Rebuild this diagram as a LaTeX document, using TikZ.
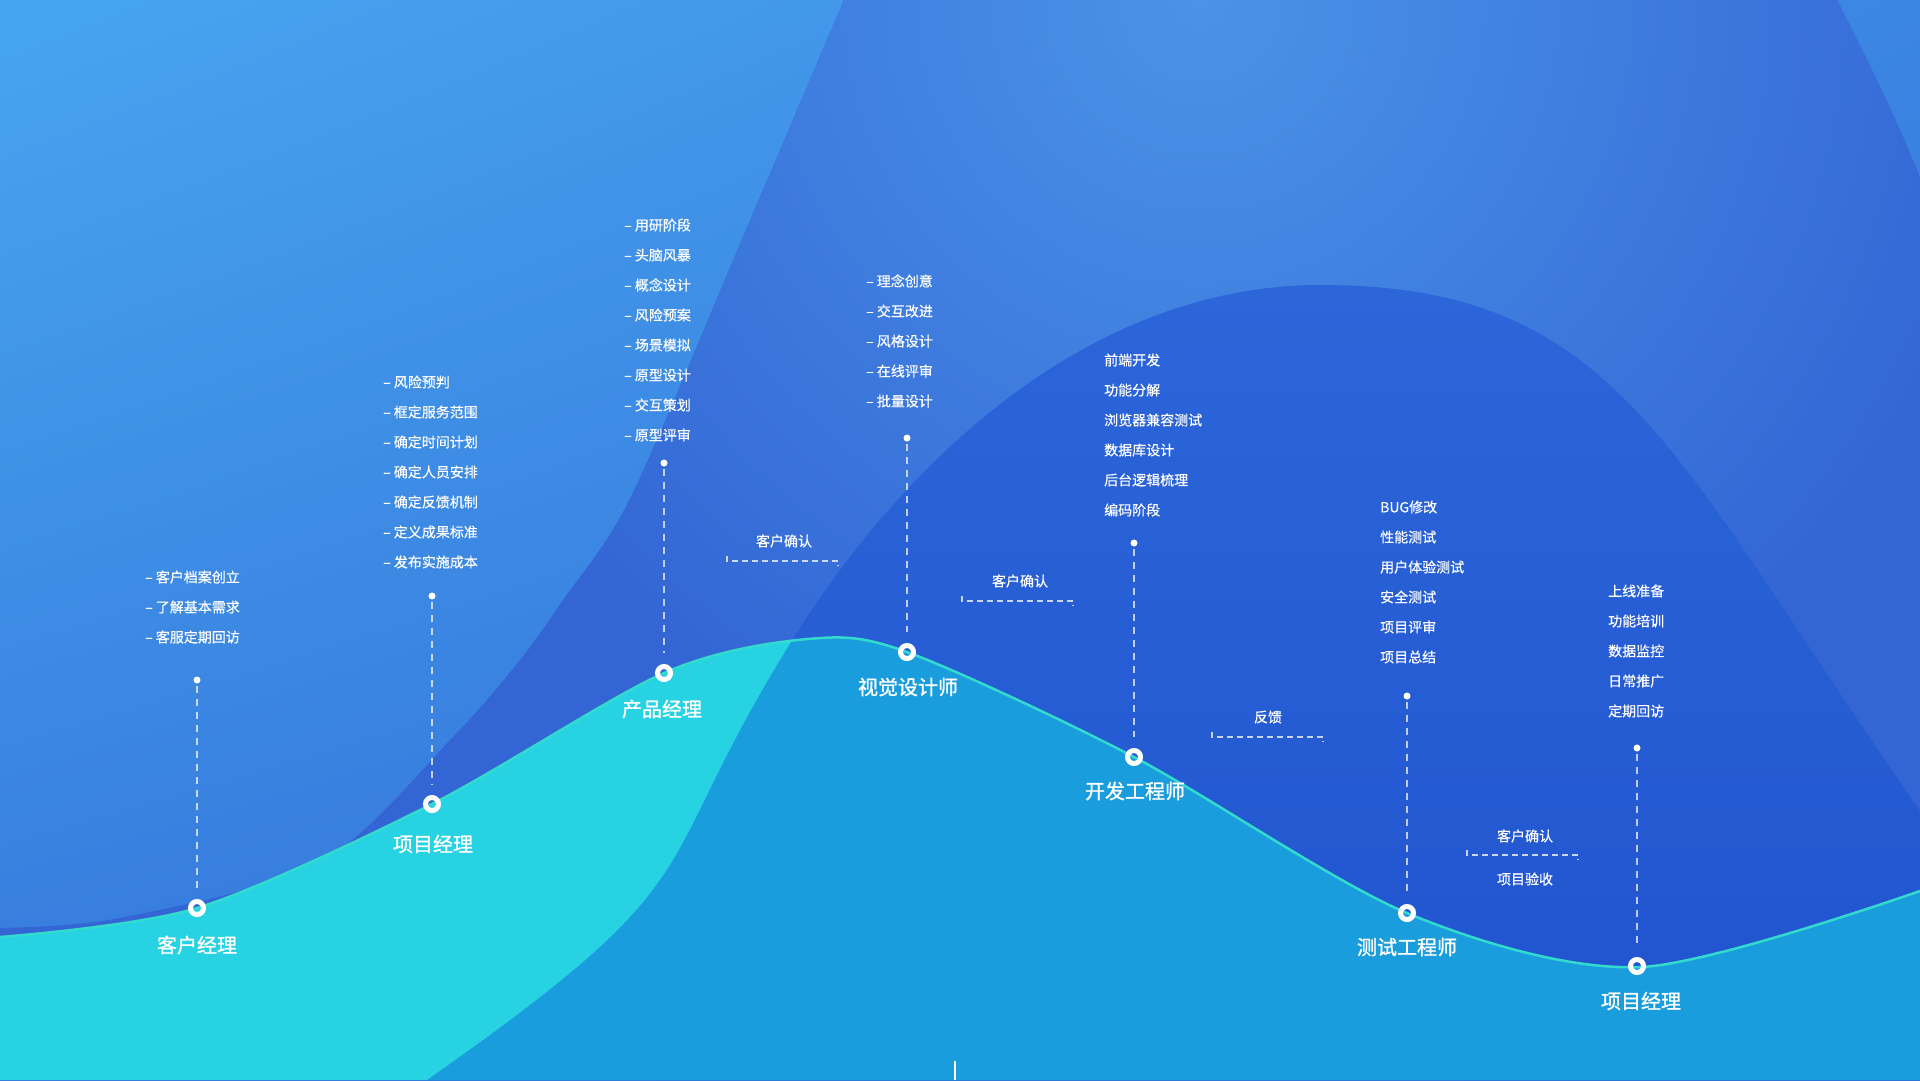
\documentclass[tikz,border=0pt]{standalone}
\usepackage{fontspec}
\setmainfont{Noto Sans CJK SC}
\newfontfamily\rolefont[FakeBold=1.2]{Noto Sans CJK SC}
\newfontfamily\listfont[FakeBold=0.4]{Noto Sans CJK SC}
\usepackage{tikz}
\usetikzlibrary{shapes, shadings, positioning}
\definecolor{bgtl}{HTML}{47A5F0}
\definecolor{bgtr}{HTML}{3C86E3}
\definecolor{bgbl}{HTML}{3679DC}
\definecolor{bgbr}{HTML}{2E66D4}
\definecolor{shellbase}{HTML}{3365D4}
\definecolor{shellglow}{HTML}{4A93E8}
\definecolor{dometop}{HTML}{2C66D9}
\definecolor{domebot}{HTML}{2053CF}
\definecolor{wavecyan}{HTML}{27D3E3}
\definecolor{wavedeep}{HTML}{1A9DDC}
\definecolor{waveedge}{HTML}{33DACE}
\tikzstyle{ring} = [circle, draw=white, line width=5pt, inner sep=0pt, minimum size=13pt]
\tikzstyle{dot} = [circle, fill=white, inner sep=0pt, minimum size=7pt]
\tikzstyle{stem} = [draw=white, draw opacity=0.7, line width=1.8pt, dash pattern=on 7pt off 6pt, shorten <=2pt, shorten >=11pt]
\tikzstyle{role} = [text=white, inner sep=0pt, font=\rolefont\fontsize{20}{24}\selectfont]
\tikzstyle{items} = [text=white, inner sep=0pt, anchor=west, align=left, font=\listfont\fontsize{14}{30}\selectfont]
\tikzstyle{note} = [text=white, inner sep=0pt, font=\listfont\fontsize{14}{16}\selectfont]
\tikzstyle{bracket} = [draw=white, draw opacity=0.75, line width=1.8pt, dash pattern=on 6pt off 4pt]

\begin{document}
\begin{tikzpicture}[x=1pt, y=-1pt]
	\useasboundingbox (0,0) rectangle (1920,1080);
	\clip (0,0) rectangle (1920,1080);
	\shade [upper left=bgtl, upper right=bgtr, lower left=bgbl, lower right=bgbr] (0,0) rectangle (1920,1080);

	\fill [shellbase] plot [smooth] coordinates {(0,928) (120,918) (320,863) (453,737) (520,660) (563,600) (631,497) (746,230) (844,0)} -- (1837,0) .. controls (1865,55) and (1895,115) .. (1920,178) -- (1920,1080) -- (0,1080) -- cycle;
	\begin{scope}
		\clip plot [smooth] coordinates {(0,928) (120,918) (320,863) (453,737) (520,660) (563,600) (631,497) (746,230) (844,0)} -- (1837,0) .. controls (1865,55) and (1895,115) .. (1920,178) -- (1920,1080) -- (0,1080) -- cycle;
		\shade [inner color=shellglow, outer color=shellbase] (1200,0) circle (850);
	\end{scope}

	\shade [top color=dometop, bottom color=domebot] (427,1080) .. controls (727,870) and (643,879) .. (793,639) .. controls (913,447) and (1100,285) .. (1320,285) .. controls (1620,285) and (1670,453) .. (1920,811) -- (1920,1080) -- cycle;

	\fill [wavecyan] plot [smooth] coordinates {(0,937) (197,908) (432,804) (664,673) (808,639) (907,652) (1134,757) (1407,913) (1641,967) (1920,891)} -- (1920,1080) -- (0,1080) -- cycle;
	\begin{scope}
		\clip plot [smooth] coordinates {(0,937) (197,908) (432,804) (664,673) (808,639) (907,652) (1134,757) (1407,913) (1641,967) (1920,891)} -- (1920,1080) -- (0,1080) -- cycle;
		\fill [wavedeep] (427,1080) .. controls (727,870) and (643,879) .. (793,639) .. controls (913,447) and (1100,285) .. (1320,285) .. controls (1620,285) and (1670,453) .. (1920,811) -- (1920,1080) -- cycle;
	\end{scope}
	\draw [waveedge, line width=2.5pt] plot [smooth] coordinates {(0,937) (197,908) (432,804) (664,673) (808,639) (907,652) (1134,757) (1407,913) (1641,967) (1920,891)};

	\node [ring] (p1) at (197,908) {};
	\node [ring] (p2) at (432,804) {};
	\node [ring] (p3) at (664,673) {};
	\node [ring] (p4) at (907,652) {};
	\node [ring] (p5) at (1134,757) {};
	\node [ring] (p6) at (1407,913) {};
	\node [ring] (p7) at (1637,966) {};

	\node [dot] (d1) at (197,680) {};
	\node [dot] (d2) at (432,596) {};
	\node [dot] (d3) at (664,463) {};
	\node [dot] (d4) at (907,438) {};
	\node [dot] (d5) at (1134,543) {};
	\node [dot] (d6) at (1407,696) {};
	\node [dot] (d7) at (1637,748) {};

	\path [stem] (d1) -- (p1);
	\path [stem] (d2) -- (p2);
	\path [stem] (d3) -- (p3);
	\path [stem] (d4) -- (p4);
	\path [stem] (d5) -- (p5);
	\path [stem] (d6) -- (p6);
	\path [stem] (d7) -- (p7);

	\node [role] (r1) at (197,945) {客户经理};
	\node [role] (r2) at (433,844) {项目经理};
	\node [role] (r3) at (662,709) {产品经理};
	\node [role] (r4) at (908,687) {视觉设计师};
	\node [role] (r5) at (1135,791) {开发工程师};
	\node [role] (r6) at (1407,947) {测试工程师};
	\node [role] (r7) at (1641,1001) {项目经理};

	\node [items] (l1) at (145,607) {– 客户档案创立\\– 了解基本需求\\– 客服定期回访};
	\node [items] (l2) at (383,472) {– 风险预判\\– 框定服务范围\\– 确定时间计划\\– 确定人员安排\\– 确定反馈机制\\– 定义成果标准\\– 发布实施成本};
	\node [items] (l3) at (624,330) {– 用研阶段\\– 头脑风暴\\– 概念设计\\– 风险预案\\– 场景模拟\\– 原型设计\\– 交互策划\\– 原型评审};
	\node [items] (l4) at (866,341) {– 理念创意\\– 交互改进\\– 风格设计\\– 在线评审\\– 批量设计};
	\node [items] (l5) at (1104,435) {前端开发\\功能分解\\浏览器兼容测试\\数据库设计\\后台逻辑梳理\\编码阶段};
	\node [items] (l6) at (1380,582) {BUG修改\\性能测试\\用户体验测试\\安全测试\\项目评审\\项目总结};
	\node [items] (l7) at (1608,651) {上线准备\\功能培训\\数据监控\\日常推广\\定期回访};

	\node [note] (c1) at (784,541) {客户确认};
	\node [note] (c2) at (1020,581) {客户确认};
	\node [note] (c3) at (1268,717) {反馈};
	\node [note] (c4) at (1525,836) {客户确认};
	\node [note] (c5) at (1525,879) {项目验收};

	\coordinate (k1) at (727,561);
	\coordinate (k2) at (962,601);
	\coordinate (k3) at (1212,737);
	\coordinate (k4) at (1467,855);
	\path [bracket] ([yshift=5pt]k1) -- (k1) -- ++(111,0) -- ++(0,5);
	\path [bracket] ([yshift=5pt]k2) -- (k2) -- ++(111,0) -- ++(0,5);
	\path [bracket] ([yshift=5pt]k3) -- (k3) -- ++(111,0) -- ++(0,5);
	\path [bracket] ([yshift=5pt]k4) -- (k4) -- ++(111,0) -- ++(0,5);

	\coordinate (t1) at (955,1061);
	\path [draw=white, line width=2pt] (t1) -- ++(0,19);
\end{tikzpicture}
\end{document}
